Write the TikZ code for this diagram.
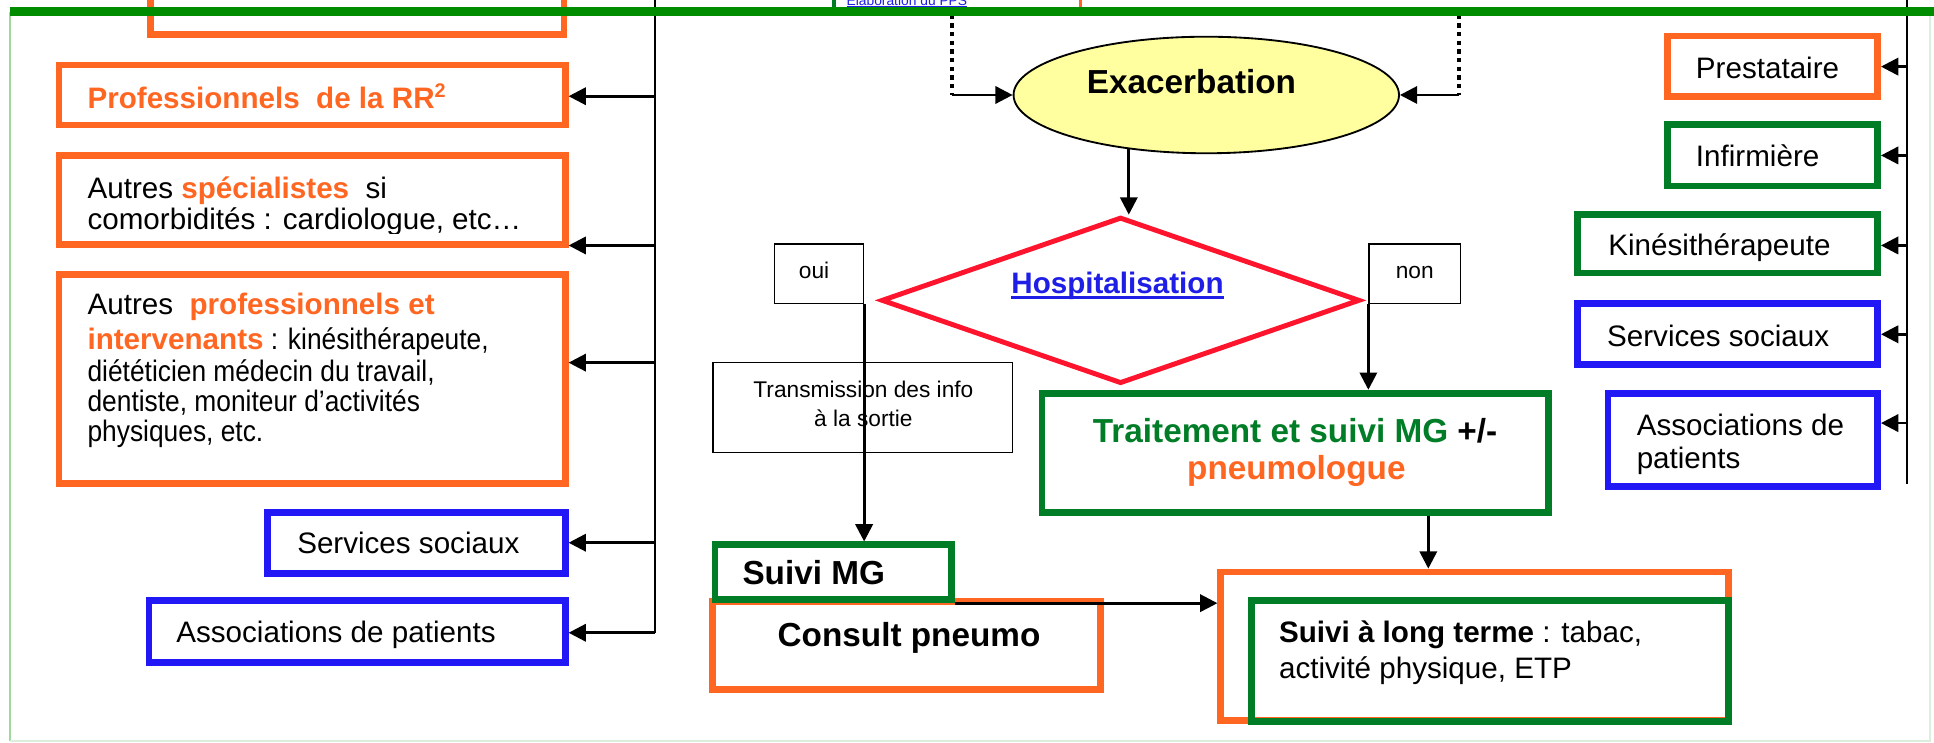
\documentclass[tikz,border=0pt]{standalone}
\usepackage{fontspec}
\setmainfont{Liberation Sans}
\newfontfamily\narrowfont[FakeStretch=0.89]{Liberation Sans}
\usetikzlibrary{shapes.geometric,arrows.meta}
\definecolor{ora}{RGB}{255,102,34}
\definecolor{grn}{RGB}{0,125,38}
\definecolor{bargreen}{RGB}{0,140,0}
\definecolor{blu}{RGB}{34,24,245}
\definecolor{dred}{RGB}{255,20,45}
\definecolor{ellfill}{RGB}{255,255,160}
\definecolor{linkblue}{RGB}{30,30,230}
\definecolor{framegreen}{RGB}{160,215,160}
\definecolor{framelight}{RGB}{220,238,220}
\newcommand\myul[2][2pt]{\setbox0\hbox{#2}\rlap{\rule[-#1]{\wd0}{0.9pt}}\box0}
\begin{document}
\begin{tikzpicture}[x=0.5pt,y=-0.5pt,
  box/.style={rectangle,draw,line width=2.75pt,inner sep=0pt,outer sep=1.375pt},
  obox/.style={box,draw=ora},
  gbox/.style={box,draw=grn},
  bbox/.style={box,draw=blu},
  thinbox/.style={rectangle,draw,line width=0.6pt,inner sep=0pt,outer sep=0.3pt},
  txt/.style={inner sep=0pt,outer sep=0pt,font=\fontsize{12}{14.4}\selectfont},
  bigtxt/.style={inner sep=0pt,outer sep=0pt,font=\bfseries\fontsize{13.5}{16}\selectfont},
  smalltxt/.style={inner sep=0pt,outer sep=0pt,font=\fontsize{9.2}{11}\selectfont},
  ntxt/.style={inner sep=0pt,outer sep=0pt,font=\narrowfont\fontsize{12}{14.4}\selectfont},
  conn/.style={line width=1.1pt},
  arr/.style={line width=1.1pt,-{Triangle[length=7pt,width=7pt]}},
  dotline/.style={line width=1.75pt,dash pattern=on 1.75pt off 1.75pt},
]
\useasboundingbox (0,0) rectangle (1568,602);
\fill[white] (0,0) rectangle (1568,602);
\clip (0,0) rectangle (1568,602);

% fragments above the bar
\node[inner sep=0pt, font=\fontsize{5.6}{6}\selectfont, text=linkblue, anchor=base west] (elab) at (686,4.5) {\myul[1.2pt]{Élaboration du PPS}};
\draw[grn, line width=1.5pt] (676,-5) -- (676,10);
\draw[ora, line width=1.5pt] (876,-5) -- (876,10);

% frame
\draw[framegreen, line width=0.8pt] (8,10) -- (8,601);
\draw[framelight, line width=0.8pt] (8,601) -- (1565,601) -- (1565,10);

% ---------- left column ----------
\node[obox, minimum width=167.75pt, minimum height=42.75pt] (topbox) at (289.5,-14.5) {};
\node[obox, minimum width=205.25pt, minimum height=24.25pt] (prof) at (253,77) {};
\node[obox, minimum width=205.25pt, minimum height=36.25pt] (spec) at (253,162) {};
\node[obox, minimum width=205.25pt, minimum height=84.75pt] (autres) at (253,307.5) {};
\node[bbox, minimum width=120.75pt, minimum height=24.75pt] (ssl) at (337.5,440.5) {};
\node[bbox, minimum width=168.75pt, minimum height=25.25pt] (asl) at (289.5,512) {};

\node[txt, anchor=base west, text=ora, font=\bfseries\fontsize{12}{14.4}\selectfont] (tprof) at (71,88) {Professionnels\ \ de la RR\textsuperscript{2}};
\node[txt, anchor=base west] (tspec1) at (71,161) {Autres {\bfseries\color{ora}spécialistes}\ \ si};
\begin{scope}
\clip (50,120) rectangle (456,189.5);
\node[txt, anchor=base west] (tspec2) at (71,186) {comorbidités : cardiologue, etc…};
\end{scope}
\node[txt, anchor=base west] (taut1) at (71,255) {Autres\ \ {\bfseries\color{ora}professionnels et}};
\node[txt, anchor=base west] (taut2) at (71,283) {{\bfseries\color{ora}intervenants}{\narrowfont\ : kinésithérapeute,}};
\node[ntxt, anchor=base west] (taut3) at (71,309.5) {diététicien médecin du travail,};
\node[ntxt, anchor=base west] (taut4) at (71,334) {dentiste, moniteur d’activités};
\node[ntxt, anchor=base west] (taut5) at (71,358) {physiques, etc.};
\node[txt, anchor=base west] (tssl) at (241,449) {Services sociaux};
\node[txt, anchor=base west] (tasl) at (143,521) {Associations de patients};

\coordinate (lvtop) at (531,-5);
\coordinate (lb1) at (531,78);
\coordinate (lb2) at (531,199);
\coordinate (lb3) at (531,294);
\coordinate (lb4) at (531,440);
\coordinate (lb5) at (531,513);
\draw[conn] (lvtop) -- (lb5);
\draw[arr] (lb1) -- (lb1 -| prof.east);
\draw[arr] (lb2) -- (lb2 -| spec.east);
\draw[arr] (lb3) -- (lb3 -| autres.east);
\draw[arr] (lb4) -- (lb4 -| ssl.east);
\draw[arr] (lb5) -- (lb5 -| asl.east);

% ---------- right column ----------
\node[obox, minimum width=85.25pt, minimum height=24.5pt] (prest) at (1437,53.75) {};
\node[gbox, minimum width=85.25pt, minimum height=25pt] (inf) at (1437,125.75) {};
\node[gbox, minimum width=121.75pt, minimum height=23.75pt] (kine) at (1400.5,197.5) {};
\node[bbox, minimum width=121.75pt, minimum height=24.75pt] (ssr) at (1400.5,270.5) {};
\node[bbox, minimum width=109.25pt, minimum height=37.75pt] (asr) at (1413,356.5) {};

\node[txt, anchor=base west] (tprest) at (1375,64) {Prestataire};
\node[txt, anchor=base west] (tinf) at (1375,135) {Infirmière};
\node[txt, anchor=base west] (tkine) at (1304,207) {Kinésithérapeute};
\node[txt, anchor=base west] (tssr) at (1303,281) {Services sociaux};
\node[txt, anchor=base west] (tasr1) at (1327,353) {Associations de};
\node[txt, anchor=base west] (tasr2) at (1327,380) {patients};

\coordinate (rvtop) at (1546,-5);
\coordinate (rvbot) at (1546,392);
\coordinate (rb1) at (1546,54);
\coordinate (rb2) at (1546,126);
\coordinate (rb3) at (1546,199);
\coordinate (rb4) at (1546,271);
\coordinate (rb5) at (1546,343);
\draw[conn] (rvtop) -- (rvbot);
\draw[arr] (rb1) -- (rb1 -| prest.east);
\draw[arr] (rb2) -- (rb2 -| inf.east);
\draw[arr] (rb3) -- (rb3 -| kine.east);
\draw[arr] (rb4) -- (rb4 -| ssr.east);
\draw[arr] (rb5) -- (rb5 -| asr.east);

% ---------- centre ----------
\node[ellipse, draw, line width=0.75pt, fill=ellfill, minimum width=156.25pt, minimum height=47.25pt, inner sep=0pt] (ell) at (978,77) {};
\node[bigtxt, anchor=base] (tex) at (966,76) {Exacerbation};

\node[diamond, draw=dred, line width=2pt, minimum width=194pt, minimum height=67.5pt, inner sep=0pt] (dia) at (908.5,243.5) {};
\node[txt, anchor=base, text=linkblue, font=\bfseries\fontsize{12}{14.4}\selectfont] (thosp) at (906,238) {\myul{Hospitalisation}};

\node[thinbox, minimum width=36pt, minimum height=24pt] (oui) at (664,222) {};
\node[smalltxt, anchor=base] (toui) at (660,226) {oui};
\node[thinbox, minimum width=37pt, minimum height=24pt] (non) at (1147,222) {};
\node[smalltxt, anchor=base] (tnon) at (1147,226) {non};

\node[thinbox, minimum width=121.5pt, minimum height=36.5pt] (trans) at (699.5,330.5) {};
\node[smalltxt, anchor=base] (ttrans1) at (700,322) {Transmission des info};
\node[smalltxt, anchor=base] (ttrans2) at (700,346) {à la sortie};

\node[obox, minimum width=157.25pt, minimum height=35.75pt] (cp) at (735,523.5) {};
\node[gbox, minimum width=95.75pt, minimum height=22.25pt] (smg) at (675.5,464) {};
\node[bigtxt, anchor=base west] (tsmg) at (602,474) {Suivi MG};
\node[bigtxt, anchor=base] (tcp) at (737,524) {Consult pneumo};

\node[gbox, minimum width=205.25pt, minimum height=48.25pt] (trait) at (1050,367) {};
\node[bigtxt, anchor=base] (ttrait1) at (1050,359) {\color{grn}Traitement et suivi MG \color{black}+/-};
\node[bigtxt, anchor=base] (ttrait2) at (1051,389) {\color{ora}pneumologue};

\node[obox, minimum width=205.75pt, minimum height=60.25pt] (lto) at (1195.5,524) {};
\node[gbox, minimum width=193.25pt, minimum height=49.25pt] (ltg) at (1208,536) {};
\node[txt, anchor=base west] (tlt1) at (1037,521) {{\bfseries Suivi à long terme} : tabac,};
\node[txt, anchor=base west] (tlt2) at (1037,550) {activité physique, ETP};

% connectors
\coordinate (dl) at (772,12);
\coordinate (dr) at (1183,12);
\draw[dotline] (dl) -- (dl |- ell.west);
\draw[arr] (dl |- ell.west) -- (ell.west);
\draw[dotline] (dr) -- (dr |- ell.east);
\draw[arr] (dr |- ell.east) -- (ell.east);
\draw[arr] (ell.215.5) -- (ell.215.5 |- dia.north);
\draw[arr] (oui.south east) -- (oui.south east |- smg.north);
\draw[arr] (non.south west) -- (non.south west |- trait.north);
\coordinate (tx) at (1158,0);
\draw[arr] (trait.south -| tx) -- (lto.north -| tx);
\draw[arr] (smg.south east) -- (smg.south east -| lto.west);

% green bar on top
\fill[bargreen] (8,6) rectangle (1568,13);
\end{tikzpicture}
\end{document}
